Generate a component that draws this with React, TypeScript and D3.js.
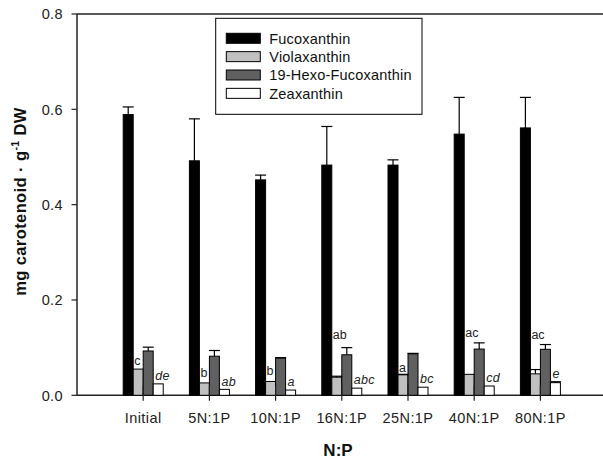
import React from "react";
import * as d3 from "d3";

const categories = ["Initial", "5N:1P", "10N:1P", "16N:1P", "25N:1P", "40N:1P", "80N:1P"];
const seriesNames = ["Fucoxanthin", "Violaxanthin", "19-Hexo-Fucoxanthin", "Zeaxanthin"];
const fucoxanthin = [0.589, 0.492, 0.452, 0.483, 0.483, 0.548, 0.561];
const fucoxanthinErr = [0.016, 0.088, 0.010, 0.081, 0.011, 0.077, 0.064];
const violaxanthin = [0.055, 0.026, 0.029, 0.038, 0.043, 0.044, 0.045];
const violaxanthinErr = [0, 0, 0, 0.002, 0.001, 0, 0.009];
const hexoFucoxanthin = [0.093, 0.082, 0.078, 0.085, 0.087, 0.097, 0.0965];
const hexoFucoxanthinErr = [0.008, 0.012, 0.001, 0.015, 0.001, 0.013, 0.01];
const zeaxanthin = [0.024, 0.0125, 0.011, 0.015, 0.017, 0.0195, 0.0265];
const zeaxanthinErr = [0, 0, 0, 0, 0, 0, 0.002];
const violaLetters = ["c", "b", "b", "ab", "a", "ac", "ac"];
const violaLetterAt = [0.072, 0.048, 0.052, 0.128, 0.059, 0.131, 0.128];
const zeaLetters = ["de", "ab", "a", "abc", "bc", "cd", "e"];
const yTicks = [0, 0.2, 0.4, 0.6, 0.8];

const colors = ["#000000", "#c0c0c0", "#606060", "#ffffff"];
const means = [fucoxanthin, violaxanthin, hexoFucoxanthin, zeaxanthin];
const errs = [fucoxanthinErr, violaxanthinErr, hexoFucoxanthinErr, zeaxanthinErr];

const W = 603, H = 460;
const left = 77, top = 14, bottom = 395.3;
const font = "'Liberation Sans', Arial, sans-serif";

export default function App() {
  const y = d3.scaleLinear().domain([0, 0.8]).range([bottom, top]);
  const x = d3.scalePoint<string>().domain(categories).range([143.2, 540.4]);
  const sub = d3.scaleBand<string>().domain(seriesNames).range([-20, 20]).padding(0);
  const bw = sub.bandwidth();
  const fmt = d3.format(".1f");
  const axisColor = "#222";

  return (
    <svg width={W} height={H} style={{ position: "absolute", left: 0, top: 0, background: "#fff" }} fontFamily={font}>
      {/* frame */}
      <line x1={left} x2={W} y1={top} y2={top} stroke={axisColor} strokeWidth={1.5} />
      <line x1={left} x2={W} y1={bottom} y2={bottom} stroke={axisColor} strokeWidth={1.5} />
      <line x1={left} x2={left} y1={top} y2={bottom} stroke={axisColor} strokeWidth={1.5} />
      {yTicks.map((t) => (
        <g key={t}>
          <line x1={left - 5.5} x2={left} y1={y(t)} y2={y(t)} stroke={axisColor} strokeWidth={1.2} />
          <text x={63} y={y(t)} dy="0.36em" textAnchor="end" fontSize={14.5} letterSpacing={0.4} fill="#222">
            {fmt(t)}
          </text>
        </g>
      ))}
      {/* bars */}
      {categories.map((c, i) => (
        <g key={c}>
          {seriesNames.map((s, k) => {
            const x0 = (x(c) as number) + (sub(s) as number);
            const v = means[k][i];
            return (
              <rect key={s} x={x0} y={y(v)} width={bw} height={y(0) - y(v)} fill={colors[k]} stroke="#000" strokeWidth={1} />
            );
          })}
          {seriesNames.map((s, k) => {
            const e = errs[k][i];
            if (!e) return null;
            const cx = (x(c) as number) + (sub(s) as number) + bw / 2;
            const v = means[k][i];
            return (
              <g key={s + "e"} stroke="#000" strokeWidth={1.2}>
                <line x1={cx} x2={cx} y1={y(v)} y2={y(v + e)} />
                <line x1={cx - 5.5} x2={cx + 5.5} y1={y(v + e)} y2={y(v + e)} />
              </g>
            );
          })}
          <line x1={x(c)} x2={x(c)} y1={bottom - 10} y2={bottom + 5.5} stroke={axisColor} strokeWidth={1.2} />
          <text x={x(c)} y={423} textAnchor="middle" fontSize={14.5} letterSpacing={0.4} fill="#222">
            {c}
          </text>
          <text x={(x(c) as number) - 9} y={y(violaLetterAt[i])} dy="0.36em" fontSize={12.5} fill="#222">
            {violaLetters[i]}
          </text>
          <text
            x={(x(c) as number) + 12}
            y={y(zeaxanthin[i] + zeaxanthinErr[i]) - 8.3}
            dy="0.36em"
            fontSize={12.5}
            fontStyle="italic"
            letterSpacing={0.3}
            fill="#222"
          >
            {zeaLetters[i]}
          </text>
        </g>
      ))}
      {/* legend */}
      <rect x={215.7} y={18.3} width={206.3} height={96} fill="#fff" stroke="#000" strokeWidth={1} />
      {seriesNames.map((s, k) => {
        const cy = 38.3 + k * 18.35;
        return (
          <g key={s}>
            <rect x={226.3} y={cy - 5} width={34} height={10} fill={colors[k]} stroke="#000" strokeWidth={1} />
            <text x={269.3} y={cy} dy="0.36em" fontSize={14.5} letterSpacing={0.2} fill="#111">
              {s}
            </text>
          </g>
        );
      })}
      {/* axis titles */}
      <text x={338} y={456} textAnchor="middle" fontSize={17} fontWeight="bold" fill="#111">
        N:P
      </text>
      <text transform="translate(26,201.5) rotate(-90)" textAnchor="middle" fontSize={16.5} fontWeight="bold" letterSpacing={0.4} fill="#111">
        mg carotenoid · g
        <tspan fontSize={10.5} dy={-7}>-1</tspan>
        <tspan dy={7}> DW</tspan>
      </text>
    </svg>
  );
}
